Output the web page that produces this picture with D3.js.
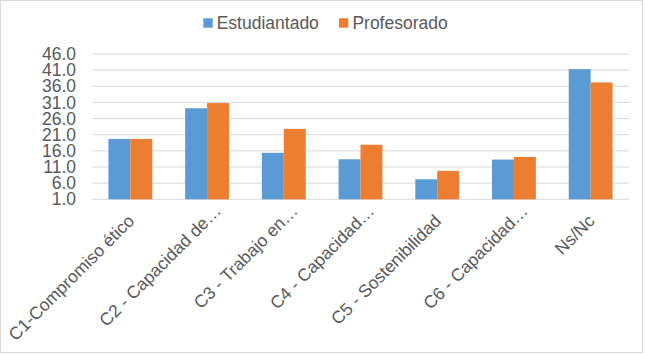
<!DOCTYPE html>
<html>
<head>
<meta charset="utf-8">
<script src="https://cdn.jsdelivr.net/npm/d3@7"></script>
<style>
  html, body { margin: 0; padding: 0; background: #fff; }
  svg { display: block; font-family: "Liberation Sans", Arial, sans-serif; }
</style>
</head>
<body>
<div id="canvas"></div>
<script>
// Canvas size.
const WIDTH = 645;
const HEIGHT = 354;

// The data.
const categories = [
    "C1-Compromiso ético",
    "C2 - Capacidad de…",
    "C3 - Trabajo en…",
    "C4 - Capacidad…",
    "C5 - Sostenibilidad",
    "C6 - Capacidad…",
    "Ns/Nc"
];
const seriesNames = ["Estudiantado", "Profesorado"];
const estudiantado = [19.7, 29.2, 15.4, 13.4, 7.2, 13.3, 41.3];
const profesorado = [19.7, 30.8, 22.8, 17.9, 9.8, 14.1, 37.2];
const yTicks = [1, 6, 11, 16, 21, 26, 31, 36, 41, 46];

const colors = ["#5B9BD5", "#ED7D31"];

// Plot area.
const plot = { left: 92, right: 629, top: 54, bottom: 199.3 };

const svg = d3.select("#canvas")
    .append("svg")
    .attr("width", WIDTH)
    .attr("height", HEIGHT);

// Chart border.
svg.append("rect")
    .attr("x", 0.5)
    .attr("y", 0.5)
    .attr("width", 642)
    .attr("height", 352)
    .attr("fill", "#fff")
    .attr("stroke", "#d9d9d9");

// Scales.
const x0 = d3.scaleBand()
    .domain(categories)
    .range([plot.left, plot.right])
    .padding(0);

// gap width 150% of a bar
const x1 = d3.scaleBand()
    .domain(seriesNames)
    .range([0, x0.bandwidth()])
    .paddingInner(0)
    .paddingOuter(0.75);

const y = d3.scaleLinear()
    .domain([1, 46])
    .range([plot.bottom, plot.top]);

// Gridlines.
svg.append("g")
    .selectAll("line")
    .data(yTicks)
    .enter()
    .append("line")
    .attr("x1", plot.left)
    .attr("x2", plot.right)
    .attr("y1", d => y(d))
    .attr("y2", d => y(d))
    .attr("stroke", "#d9d9d9")
    .attr("stroke-width", 1);

// Y axis labels.
const yAxis = d3.axisLeft(y)
    .tickValues(yTicks)
    .tickFormat(d3.format(".1f"))
    .tickSize(0)
    .tickPadding(0);

const yg = svg.append("g")
    .attr("transform", `translate(${76}, 0)`)
    .call(yAxis);
yg.select(".domain").remove();
yg.selectAll("text")
    .attr("fill", "#595959")
    .attr("font-size", "17.5px")
    .attr("font-family", "Liberation Sans, Arial, sans-serif");

// Bars.
const rows = categories.map((c, i) => ({ cat: c, values: [estudiantado[i], profesorado[i]] }));

const groups = svg.append("g")
    .selectAll("g")
    .data(rows)
    .enter()
    .append("g")
    .attr("transform", d => `translate(${x0(d.cat)}, 0)`);

groups.selectAll("rect")
    .data(d => d.values.map((v, i) => ({ key: seriesNames[i], value: v, i: i })))
    .enter()
    .append("rect")
    .attr("x", d => x1(d.key))
    .attr("width", x1.bandwidth())
    .attr("y", d => y(d.value))
    .attr("height", d => y(1) - y(d.value))
    .attr("fill", d => colors[d.i]);

// X axis labels, rotated. Truncated ones sit a bit further out.
svg.append("g")
    .selectAll("text")
    .data(categories)
    .enter()
    .append("text")
    .attr("transform", d => {
        const s = d.endsWith("…") ? 10 : 0;
        return `translate(${x0(d) + x0.bandwidth() / 2 + 5 + s}, ${222 - s}) rotate(-45)`;
    })
    .attr("text-anchor", "end")
    .attr("fill", "#595959")
    .attr("font-size", "17.5px")
    .text(d => d);

// Legend.
const legendX = [203.3, 339];
const legend = svg.append("g")
    .selectAll("g")
    .data(seriesNames)
    .enter()
    .append("g")
    .attr("transform", (d, i) => `translate(${legendX[i]}, 18.3)`);

legend.append("rect")
    .attr("width", 9.4)
    .attr("height", 9.4)
    .attr("fill", (d, i) => colors[i]);

legend.append("text")
    .attr("x", 13.4)
    .attr("y", 11)
    .attr("fill", "#595959")
    .attr("font-size", "17.5px")
    .text(d => d);
</script>
</body>
</html>
